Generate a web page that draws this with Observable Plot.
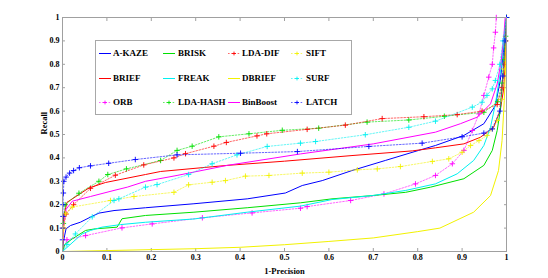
<!DOCTYPE html>
<html>
<head>
<meta charset="utf-8">
<script src="https://cdn.jsdelivr.net/npm/d3@7"></script>
<script src="https://cdn.jsdelivr.net/npm/@observablehq/plot@0.6"></script>
<style>
  html, body { margin: 0; padding: 0; background: #fff; }
  #wrap { position: relative; width: 548px; height: 278px; }
  #legend { position: absolute; left: 95px; top: 40px; width: 257px; height: 75px; box-sizing: border-box;
            border: 1px solid #a8a8a8; background: #fff; }
  #legend .item { position: absolute; font: bold 9px "Liberation Serif", "DejaVu Serif", serif; color: #000; white-space: nowrap; }
  #legend svg { position: absolute; left: 0; top: 0; overflow: visible; }
</style>
</head>
<body>
<div id="wrap"></div>
<script>
// ---- data ----
const names = ["A-KAZE","BRISK","LDA-DIF","SIFT","BRIEF","FREAK","DBRIEF","SURF","ORB","LDA-HASH","BinBoost","LATCH"];
const xTicks = [0,0.1,0.2,0.3,0.4,0.5,0.6,0.7,0.8,0.9,1];
const yTicks = [0,0.1,0.2,0.3,0.4,0.5,0.6,0.7,0.8,0.9,1];
const xTickLabels = ["0","0.1","0.2","0.3","0.4","0.5","0.6","0.7","0.8","0.9","1"];
const yTickLabels = ["0","0.1","0.2","0.3","0.4","0.5","0.6","0.7","0.8","0.9","1"];

const akaze = [[0,0],[0.002,0.04],[0.005,0.07],[0.008,0.097],[0.018,0.111],[0.04,0.125],[0.063,0.147],[0.082,0.164],[0.116,0.175],[0.187,0.187],[0.296,0.204],[0.416,0.225],[0.502,0.25],[0.54,0.282],[0.585,0.303],[0.652,0.346],[0.727,0.389],[0.802,0.432],[0.84,0.453],[0.904,0.496],[0.949,0.546],[0.975,0.624],[0.986,0.731],[0.993,0.85],[0.997,0.95],[1,1]];
const brisk = [[0,0],[0.005,0.03],[0.022,0.054],[0.052,0.09],[0.074,0.097],[0.123,0.104],[0.134,0.14],[0.187,0.154],[0.296,0.168],[0.416,0.187],[0.536,0.208],[0.607,0.225],[0.698,0.239],[0.773,0.253],[0.829,0.275],[0.904,0.311],[0.949,0.368],[0.968,0.432],[0.979,0.517],[0.986,0.603],[0.992,0.75],[0.997,0.9],[1,1]];
const ldadif = [[0,0],[0.002,0.1],[0.008,0.16],[0.025,0.2],[0.063,0.27],[0.119,0.326],[0.183,0.37],[0.251,0.4],[0.277,0.418],[0.341,0.45],[0.369,0.466],[0.438,0.494],[0.46,0.503],[0.551,0.522],[0.637,0.54],[0.72,0.568],[0.814,0.576],[0.889,0.585],[0.945,0.6],[0.979,0.628],[0.99,0.7],[0.995,0.8],[0.998,0.9],[1,1]];
const sift = [[0,0],[0.003,0.1],[0.007,0.161],[0.022,0.19],[0.108,0.218],[0.161,0.235],[0.251,0.253],[0.284,0.285],[0.337,0.296],[0.367,0.303],[0.412,0.322],[0.465,0.325],[0.54,0.335],[0.6,0.339],[0.664,0.349],[0.709,0.353],[0.761,0.363],[0.833,0.385],[0.87,0.396],[0.9,0.424],[0.919,0.453],[0.938,0.474],[0.956,0.496],[0.968,0.524],[0.979,0.56],[0.988,0.65],[0.994,0.78],[0.998,0.9],[1,1]];
const brief = [[0,0],[0.001,0.1],[0.003,0.15],[0.01,0.21],[0.06,0.272],[0.097,0.295],[0.187,0.329],[0.221,0.342],[0.371,0.368],[0.5,0.386],[0.652,0.41],[0.788,0.43],[0.84,0.443],[0.904,0.46],[0.941,0.488],[0.971,0.53],[0.986,0.603],[0.994,0.7],[0.998,0.85],[1,1]];
const freak = [[0,0],[0.044,0.075],[0.063,0.09],[0.089,0.104],[0.131,0.115],[0.187,0.125],[0.296,0.139],[0.416,0.168],[0.536,0.194],[0.607,0.222],[0.698,0.239],[0.773,0.261],[0.84,0.289],[0.889,0.332],[0.926,0.389],[0.949,0.453],[0.964,0.531],[0.975,0.631],[0.982,0.716],[0.988,0.788],[0.994,0.9],[1,1]];
const dbrief = [[0,0],[0.1,0.004],[0.3,0.012],[0.4,0.018],[0.5,0.029],[0.6,0.043],[0.7,0.058],[0.8,0.085],[0.85,0.1],[0.926,0.168],[0.964,0.239],[0.982,0.346],[0.99,0.474],[0.995,0.645],[0.998,0.8],[1,1]];
const surf = [[0,0],[0.01,0.03],[0.029,0.075],[0.067,0.148],[0.116,0.218],[0.127,0.225],[0.187,0.275],[0.213,0.286],[0.284,0.329],[0.337,0.375],[0.393,0.413],[0.461,0.449],[0.536,0.463],[0.57,0.47],[0.682,0.499],[0.78,0.531],[0.84,0.557],[0.923,0.617],[0.945,0.638],[0.956,0.667],[0.968,0.695],[0.975,0.731],[0.985,0.8],[0.992,0.9],[1,1]];
const orb = [[0,0],[0.01,0.05],[0.052,0.068],[0.134,0.101],[0.202,0.118],[0.315,0.144],[0.427,0.165],[0.536,0.185],[0.551,0.192],[0.649,0.218],[0.724,0.246],[0.795,0.289],[0.84,0.325],[0.878,0.375],[0.904,0.432],[0.923,0.517],[0.938,0.588],[0.949,0.667],[0.96,0.745],[0.968,0.8],[0.971,0.87],[0.975,0.937],[0.977,1]];
const ldahash = [[0,0],[0.002,0.12],[0.006,0.2],[0.037,0.249],[0.082,0.3],[0.102,0.329],[0.144,0.353],[0.221,0.389],[0.258,0.432],[0.292,0.45],[0.352,0.49],[0.42,0.503],[0.495,0.518],[0.577,0.527],[0.686,0.553],[0.78,0.562],[0.86,0.578],[0.949,0.595],[0.98,0.64],[0.99,0.72],[0.995,0.82],[0.998,0.92],[1,1]];
const binboost = [[0,0],[0.002,0.1],[0.008,0.18],[0.022,0.215],[0.063,0.235],[0.116,0.261],[0.146,0.275],[0.187,0.3],[0.258,0.325],[0.371,0.368],[0.536,0.417],[0.7,0.46],[0.84,0.51],[0.896,0.546],[0.934,0.574],[0.964,0.631],[0.979,0.716],[0.988,0.816],[0.994,0.92],[0.997,1]];
const latch = [[0,0],[0,0.05],[0,0.1],[0.001,0.15],[0.001,0.2],[0.002,0.25],[0.003,0.3],[0.008,0.318],[0.016,0.335],[0.025,0.346],[0.038,0.358],[0.063,0.366],[0.104,0.377],[0.164,0.393],[0.258,0.413],[0.401,0.42],[0.529,0.427],[0.69,0.449],[0.81,0.463],[0.9,0.49],[0.949,0.506],[0.968,0.524],[0.985,0.6],[0.992,0.75],[0.997,0.9],[1,1]];

const seriesData = [akaze, brisk, ldadif, sift, brief, freak, dbrief, surf, orb, ldahash, binboost, latch];
const colors = ["#0000ff","#00e000","#ff0000","#f2f200","#ff0000","#00f0f0","#f2f200","#00f0f0","#ff00ff","#00e000","#ff00ff","#0000ff"];
const dashed = [false,false,true,true,false,false,false,true,true,true,false,true];

// ---- chart ----
const W = 548, H = 278;
const mL = 62, mR = 42, mT = 17, mB = 27;
const font = '"Liberation Serif", "DejaVu Serif", serif';
const frameColor = "#a0a0a0";
const dash = "1.6,1.6";

const marks = [];
const drawOrder = [0,4,8,1,5,9,2,6,10,3,7,11];
for (const i of drawOrder) {
  const data = seriesData[i];
  marks.push(Plot.line(data, {
    x: d => d[0], y: d => d[1], stroke: colors[i], strokeWidth: dashed[i] ? 0.8 : 1,
    strokeOpacity: dashed[i] ? 0.75 : 1,
    strokeDasharray: dashed[i] ? dash : null, curve: "linear", clip: true
  }));
  if (dashed[i]) {
    marks.push(Plot.dot(data.slice(1), {
      x: d => d[0], y: d => d[1], symbol: "plus", r: 1.9, stroke: colors[i], strokeWidth: 0.9
    }));
  }
}

const tickMarks = [
  Plot.axisX(xTicks, {anchor: "bottom", tickSize: -3, tickFormat: () => "", stroke: frameColor}),
  Plot.axisX(xTicks, {anchor: "top", tickSize: -3, tickFormat: () => "", stroke: frameColor}),
  Plot.axisY(yTicks, {anchor: "left", tickSize: -3, tickFormat: () => "", stroke: frameColor}),
  Plot.axisY(yTicks, {anchor: "right", tickSize: -3, tickFormat: () => "", stroke: frameColor}),
  Plot.axisX(xTicks, {anchor: "bottom", tickSize: 0, tickPadding: 3, tickFormat: (d, i) => xTickLabels[i],
    fontWeight: "bold", fill: "#000", label: null}),
  Plot.axisY(yTicks, {anchor: "left", tickSize: 0, tickPadding: 3, tickFormat: (d, i) => yTickLabels[i],
    fontWeight: "bold", fill: "#000", label: null}),
  Plot.frame({stroke: frameColor, strokeWidth: 1})
];

const chart = Plot.plot({
  width: W, height: H,
  marginLeft: mL, marginRight: mR, marginTop: mT, marginBottom: mB,
  style: {fontFamily: font, fontSize: "8px", background: "#fff", overflow: "visible"},
  x: {domain: [0, 1], axis: null},
  y: {domain: [0, 1], axis: null},
  marks: [
    ...tickMarks.slice(0, 4),
    ...marks,
    ...tickMarks.slice(4),
    Plot.text(["1-Precision"], {frameAnchor: "bottom", dy: 22, text: d => d, fontWeight: "bold", fontSize: 8.5, fill: "#000"}),
    Plot.text(["Recall"], {frameAnchor: "left", dx: -18, rotate: -90, text: d => d, fontWeight: "bold", fontSize: 8.5, fill: "#000"})
  ]
});

const wrap = document.getElementById("wrap");
wrap.appendChild(chart);

// ---- legend overlay ----
const legend = document.createElement("div");
legend.id = "legend";
wrap.appendChild(legend);
const colLine = [3, 67, 132, 195];
const colText = [17, 82, 146, 210];
const rowY = [13, 38, 62];
const ns = "http://www.w3.org/2000/svg";
const lsvg = document.createElementNS(ns, "svg");
lsvg.setAttribute("width", 255); lsvg.setAttribute("height", 73);
legend.appendChild(lsvg);
names.forEach((name, i) => {
  const c = i % 4, r = Math.floor(i / 4);
  const y = rowY[r] - 0.5;
  const ln = document.createElementNS(ns, "line");
  ln.setAttribute("x1", colLine[c]); ln.setAttribute("x2", colLine[c] + 12);
  ln.setAttribute("y1", y); ln.setAttribute("y2", y);
  ln.setAttribute("stroke", colors[i]); ln.setAttribute("stroke-width", dashed[i] ? 0.8 : 1);
  if (dashed[i]) { ln.setAttribute("stroke-dasharray", dash); ln.setAttribute("stroke-opacity", 0.75); }
  lsvg.appendChild(ln);
  if (dashed[i]) {
    const cx = colLine[c] + 6;
    const p = document.createElementNS(ns, "path");
    p.setAttribute("d", `M${cx-1.9},${y}H${cx+1.9}M${cx},${y-1.9}V${y+1.9}`);
    p.setAttribute("stroke", colors[i]); p.setAttribute("stroke-width", 0.9);
    lsvg.appendChild(p);
  }
  const t = document.createElement("div");
  t.className = "item";
  t.textContent = name;
  t.style.left = colText[c] + "px";
  t.style.top = (rowY[r] - 6) + "px";
  legend.appendChild(t);
});
</script>
</body>
</html>
